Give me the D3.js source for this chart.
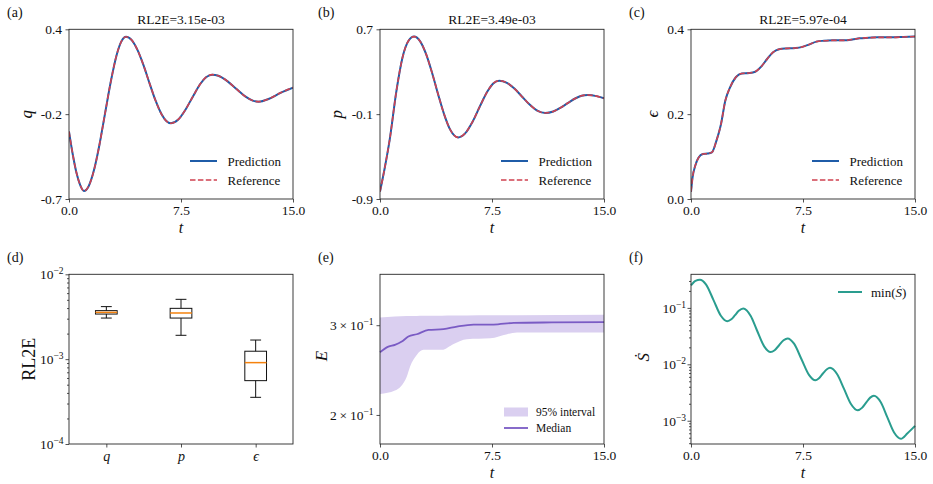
<!DOCTYPE html>
<html>
<head>
<meta charset="utf-8">
<script src="https://cdn.jsdelivr.net/npm/d3@7"></script>
<style>
  body { margin: 0; background: #fff; }
  svg { display: block; }
  svg text { font-family: "Liberation Serif", "Times New Roman", serif; }
</style>
</head>
<body>
<svg id="fig" width="933" height="484"></svg>
<script>
// ---------- data ----------
const tTicks = [0, 7.5, 15];

// (a) q(t)
const tQ = [0, 0.25, 0.5, 0.75, 1.0, 1.3, 1.7, 2.0, 2.4, 2.8, 3.2, 3.5, 3.82, 4.2, 4.6, 5.0, 5.4, 5.8, 6.2, 6.5, 6.82,
            7.3, 7.8, 8.3, 8.8, 9.2, 9.59, 10.0, 10.6, 11.2, 11.8, 12.3, 12.7, 13.4, 14.2, 15];
const qPred = [-0.263, -0.41, -0.53, -0.61, -0.648, -0.62, -0.503, -0.368, -0.153, 0.062, 0.237, 0.32, 0.352, 0.33, 0.263,
               0.164, 0.048, -0.063, -0.151, -0.193, -0.209, -0.186, -0.121, -0.035, 0.047, 0.091, 0.106, 0.099, 0.064,
               0.014, -0.035, -0.062, -0.069, -0.05, -0.01, 0.022];
const qRef = qPred.slice();
const qTickLabels = ["-0.7", "-0.2", "0.4"];

// (b) p(t)
const tP = [0, 0.3, 0.65, 1.1, 1.5, 1.9, 2.28, 2.7, 3.1, 3.5, 3.9, 4.3, 4.7, 5.23, 5.7, 6.2, 6.7, 7.2, 7.6, 7.98,
            8.5, 9.0, 9.5, 10.0, 10.5, 11.07, 11.6, 12.1, 12.6, 13.1, 13.5, 13.9, 14.5, 15];
const pPred = [-0.83, -0.62, -0.34, 0.12, 0.43, 0.59, 0.631, 0.584, 0.461, 0.283, 0.083, -0.104, -0.246, -0.319,
               -0.281, -0.171, -0.023, 0.116, 0.192, 0.216, 0.195, 0.141, 0.067, -0.007, -0.064, -0.089, -0.075,
               -0.039, 0.007, 0.05, 0.073, 0.081, 0.07, 0.049];
const pRef = pPred.slice();
const pTickLabels = ["-0.9", "-0.1", "0.7"];

// (c) epsilon(t)
const tE = [0, 0.1, 0.3, 0.5, 0.8, 1.1, 1.4, 1.7, 2.0, 2.3, 2.6, 3.0, 3.4, 3.9, 4.3, 4.7, 5.1, 5.5, 5.9, 6.4, 7.0,
            7.4, 7.9, 8.4, 8.9, 9.5, 10.3, 10.8, 11.3, 11.9, 12.5, 13.5, 14.2, 15];
const ePred = [0.017, 0.05, 0.08, 0.097, 0.106, 0.107, 0.11, 0.137, 0.175, 0.232, 0.262, 0.287, 0.296, 0.297, 0.3,
               0.312, 0.33, 0.346, 0.353, 0.355, 0.356, 0.358, 0.364, 0.371, 0.373, 0.374, 0.374, 0.376, 0.379, 0.38,
               0.381, 0.381, 0.382, 0.383];
const eRef = ePred.slice();
const eTickLabels = ["0.0", "0.2", "0.4"];

// (d) RL2E box plots
const boxCats = ["q", "p", "\u03f5"];
const boxLow = [3.05e-3, 1.91e-3, 3.55e-4];
const boxQ1 = [3.40e-3, 3.05e-3, 5.58e-4];
const boxMed = [3.56e-3, 3.50e-3, 9.1e-4];
const boxQ3 = [3.73e-3, 3.97e-3, 1.24e-3];
const boxHigh = [4.16e-3, 5.07e-3, 1.68e-3];
const rlTicks = [1e-4, 1e-3, 1e-2];
const rlExps = ["\u22124", "\u22123", "\u22122"];

// (e) energy E: 95% band and median
const tBandLo = [0, 1.0, 1.79, 2.01, 2.46, 2.91, 4.14, 4.93, 5.82, 7.39, 8.51, 9.18, 15];
const bandLo = [0.2199, 0.2233, 0.2378, 0.2488, 0.2623, 0.2684, 0.2684, 0.2757, 0.2815, 0.2827, 0.288, 0.2902, 0.2902];
const tBandHi = [0, 1.0, 2.0, 4.25, 8.7, 15];
const bandHi = [0.3105, 0.3119, 0.3128, 0.3133, 0.3138, 0.3144];
const tMed = [0, 0.56, 1.0, 1.46, 1.9, 2.46, 3.25, 4.25, 5.15, 6.27, 7.6, 8.95, 11.5, 15];
const eMed = [0.2655, 0.2724, 0.2745, 0.2786, 0.2851, 0.288, 0.2937, 0.2947, 0.2982, 0.3009, 0.3009, 0.3032, 0.3038, 0.3041];
const energyTicks = [0.2, 0.3];
const energyMant = ["2", "3"];

// (f) min entropy production rate
const tS = [0, 0.3, 0.6, 1.0, 1.5, 2.0, 2.43, 2.7, 2.95, 3.2, 3.5, 4.0, 4.4, 4.9, 5.33, 5.6, 5.9, 6.2, 6.47, 6.9, 7.4,
            7.9, 8.33, 8.55, 8.82, 9.1, 9.31, 9.8, 10.24, 10.7, 11.16, 11.45, 11.7, 12.0, 12.25, 12.7, 13.15, 13.6,
            14.06, 14.5, 15];
const sDot = [0.251, 0.302, 0.316, 0.261, 0.139, 0.0726, 0.0582, 0.0628, 0.0745, 0.0887, 0.0973, 0.0716, 0.041,
              0.0208, 0.0165, 0.0178, 0.0218, 0.0267, 0.0288, 0.0232, 0.0123, 0.0065, 0.0052, 0.0056, 0.0068, 0.0082,
              0.0087, 0.0066, 0.0037, 0.0020, 0.00153, 0.00169, 0.00205, 0.00257, 0.00277, 0.00215, 0.00115, 0.00062,
              0.00048, 0.0006, 0.00081];
const sTicks = [1e-3, 1e-2, 1e-1];
const sExps = ["\u22123", "\u22122", "\u22121"];

// ---------- layout / style ----------
const SERIF = "Liberation Serif, Times New Roman, serif";
const INK = "#262626";
const BLUE = "#1f5ca8", RED = "#cf4250";
const cols = [[69, 293], [380, 604], [691, 915]];
const rows = [[29.3, 199], [274.3, 444]];

const svg = d3.select("#fig");

function makePanel(c, r, tag) {
  const [x0, x1] = cols[c], [y0, y1] = rows[r];
  const g = svg.append("g");
  g.append("text").attr("x", x0 - 62).attr("y", r === 0 ? 17 : 262)
    .attr("font-size", 14).attr("fill", "#111").text(tag);
  return { x0, x1, y0, y1, g };
}

function frame(p) {
  p.g.append("rect").attr("x", p.x0).attr("y", p.y0)
    .attr("width", p.x1 - p.x0).attr("height", p.y1 - p.y0)
    .attr("fill", "none").attr("stroke", INK).attr("stroke-width", 0.9);
}

function tidy(ax, size) {
  ax.attr("font-family", SERIF);
  ax.select(".domain").remove();
  ax.selectAll(".tick line").attr("stroke", INK).attr("stroke-width", 0.8);
  ax.selectAll(".tick text").attr("font-size", size || 13.5).attr("fill", "#111");
}

function mathLabel(p, txt, x, y, rotate, size) {
  const t = p.g.append("text").attr("font-style", "italic")
    .attr("font-size", size || 17).attr("fill", "#111").attr("text-anchor", "middle").text(txt);
  if (rotate) t.attr("transform", `translate(${x},${y}) rotate(-90)`);
  else t.attr("x", x).attr("y", y);
  return t;
}

function timeAxis(p, x) {
  const ax = p.g.append("g").attr("transform", `translate(0,${p.y1})`)
    .call(d3.axisBottom(x).tickValues(tTicks).tickFormat(d3.format(".1f"))
      .tickSizeInner(3.5).tickSizeOuter(0).tickPadding(3));
  tidy(ax);
  mathLabel(p, "t", (p.x0 + p.x1) / 2, p.y1 + 34, false, 16);
}

// superscript power-of-ten labels on a left log axis
function powerLabels(ax, exps, mants) {
  ax.selectAll(".tick text").each(function (d, i) {
    const t = d3.select(this).text(null);
    if (mants) t.append("tspan").text(mants[i] + "\u2009\u00d7\u200910");
    else t.append("tspan").text("10");
    t.append("tspan").attr("dy", "-0.5em").attr("font-size", 9.5).text(exps[i]);
  });
}

function minorTicks(p, y) {
  const [lo, hi] = y.domain();
  const vals = [];
  for (let k = Math.floor(Math.log10(lo)); k <= Math.ceil(Math.log10(hi)); k++) {
    for (let m = 2; m <= 9; m++) {
      const v = m * Math.pow(10, k);
      if (v > lo && v < hi) vals.push(v);
    }
  }
  const ax = p.g.append("g").attr("transform", `translate(${p.x0},0)`)
    .call(d3.axisLeft(y).tickValues(vals).tickFormat("").tickSizeInner(2).tickSizeOuter(0));
  tidy(ax);
}

// ---------- (a)-(c): prediction vs reference ----------
function linePanel(c, tag, title, yName, yLabelOff, ts, pred, ref, yDom, yLabels) {
  const p = makePanel(c, 0, tag);
  const x = d3.scaleLinear().domain([0, 15]).range([p.x0, p.x1]);
  const y = d3.scaleLinear().domain(yDom).range([p.y1, p.y0]);
  const line = d3.line().x((d, i) => x(ts[i])).y(d => y(d)).curve(d3.curveMonotoneX);

  const clipId = "clip" + c;
  svg.append("clipPath").attr("id", clipId).append("rect")
    .attr("x", p.x0).attr("y", p.y0).attr("width", p.x1 - p.x0).attr("height", p.y1 - p.y0);
  const plot = p.g.append("g").attr("clip-path", `url(#${clipId})`);
  plot.append("path").datum(pred).attr("d", line).attr("fill", "none")
    .attr("stroke", BLUE).attr("stroke-width", 2);
  plot.append("path").datum(ref).attr("d", line).attr("fill", "none")
    .attr("stroke", RED).attr("stroke-width", 1.6).attr("stroke-dasharray", "5.5,2.4");

  const yTicks = [yDom[0], (yDom[0] + yDom[1]) / 2, yDom[1]];
  const ay = p.g.append("g").attr("transform", `translate(${p.x0},0)`)
    .call(d3.axisLeft(y).tickValues(yTicks).tickFormat((d, i) => yLabels[i])
      .tickSizeInner(3.5).tickSizeOuter(0).tickPadding(3.5));
  tidy(ay);
  timeAxis(p, x);
  frame(p);

  p.g.append("text").attr("x", (p.x0 + p.x1) / 2).attr("y", 24).attr("text-anchor", "middle")
    .attr("font-size", 13.5).attr("fill", "#111").text(title);
  mathLabel(p, yName, p.x0 - yLabelOff, (p.y0 + p.y1) / 2, true);

  // legend
  const lx = p.x1 - 103;
  const lg = p.g.append("g");
  lg.append("line").attr("x1", lx).attr("x2", lx + 27).attr("y1", 161).attr("y2", 161)
    .attr("stroke", BLUE).attr("stroke-width", 2);
  lg.append("line").attr("x1", lx).attr("x2", lx + 27).attr("y1", 180).attr("y2", 180)
    .attr("stroke", RED).attr("stroke-width", 1.6).attr("stroke-dasharray", "5.5,2.4");
  lg.selectAll("text").data(["Prediction", "Reference"]).join("text")
    .attr("x", lx + 37.5).attr("y", (d, i) => 161 + i * 19).attr("dy", "0.35em")
    .attr("font-size", 13).attr("fill", "#111").text(d => d);
}

linePanel(0, "(a)", "RL2E=3.15e-03", "q", 37, tQ, qPred, qRef, [-0.7, 0.4], qTickLabels);
linePanel(1, "(b)", "RL2E=3.49e-03", "p", 38, tP, pPred, pRef, [-0.9, 0.7], pTickLabels);
linePanel(2, "(c)", "RL2E=5.97e-04", "\u03f5", 33, tE, ePred, eRef, [0, 0.4], eTickLabels);

// ---------- (d): RL2E box plots ----------
{
  const p = makePanel(0, 1, "(d)");
  const x = d3.scalePoint().domain(boxCats).range([p.x0, p.x1]).padding(0.5);
  const y = d3.scaleLog().domain([1e-4, 1e-2]).range([p.y1, p.y0]);
  const bw = 21.7;
  boxCats.forEach((c, i) => {
    const cx = x(c);
    const b = p.g.append("g").attr("stroke", "#111").attr("stroke-width", 1).attr("fill", "none");
    b.append("line").attr("x1", cx).attr("x2", cx).attr("y1", y(boxLow[i])).attr("y2", y(boxQ1[i]));
    b.append("line").attr("x1", cx).attr("x2", cx).attr("y1", y(boxQ3[i])).attr("y2", y(boxHigh[i]));
    b.append("line").attr("x1", cx - bw / 4).attr("x2", cx + bw / 4).attr("y1", y(boxLow[i])).attr("y2", y(boxLow[i]));
    b.append("line").attr("x1", cx - bw / 4).attr("x2", cx + bw / 4).attr("y1", y(boxHigh[i])).attr("y2", y(boxHigh[i]));
    b.append("rect").attr("x", cx - bw / 2).attr("width", bw)
      .attr("y", y(boxQ3[i])).attr("height", y(boxQ1[i]) - y(boxQ3[i]));
    b.append("line").attr("x1", cx - bw / 2).attr("x2", cx + bw / 2).attr("y1", y(boxMed[i])).attr("y2", y(boxMed[i]))
      .attr("stroke", "#f5820d").attr("stroke-width", 1.5);
  });
  const ay = p.g.append("g").attr("transform", `translate(${p.x0},0)`)
    .call(d3.axisLeft(y).tickValues(rlTicks).tickSizeInner(3.5).tickSizeOuter(0).tickPadding(2));
  tidy(ay);
  powerLabels(ay, rlExps);
  minorTicks(p, y);
  const ax = p.g.append("g").attr("transform", `translate(0,${p.y1})`)
    .call(d3.axisBottom(x).tickSizeInner(3.5).tickSizeOuter(0).tickPadding(4));
  tidy(ax);
  ax.selectAll(".tick text").attr("font-style", "italic").attr("font-size", 14);
  frame(p);
  p.g.append("text").attr("transform", `translate(35,${(p.y0 + p.y1) / 2}) rotate(-90)`)
    .attr("text-anchor", "middle").attr("font-size", 18).attr("fill", "#111").text("RL2E");
}

// ---------- (e): energy band ----------
{
  const p = makePanel(1, 1, "(e)");
  const x = d3.scaleLinear().domain([0, 15]).range([p.x0, p.x1]);
  const y = d3.scaleLog().domain([0.1754, 0.3776]).range([p.y1, p.y0]);
  // upper edge sampled on the lower-edge grid
  const hiAt = d3.scaleLinear().domain(tBandHi).range(bandHi);
  const area = d3.area().x((d, i) => x(tBandLo[i])).y0(d => y(d)).y1((d, i) => y(hiAt(tBandLo[i])))
    .curve(d3.curveMonotoneX);
  p.g.append("path").datum(bandLo).attr("d", area).attr("fill", "#dacff0");
  const line = d3.line().x((d, i) => x(tMed[i])).y(d => y(d)).curve(d3.curveMonotoneX);
  p.g.append("path").datum(eMed).attr("d", line).attr("fill", "none")
    .attr("stroke", "#7a5bc4").attr("stroke-width", 1.8);

  const ay = p.g.append("g").attr("transform", `translate(${p.x0},0)`)
    .call(d3.axisLeft(y).tickValues(energyTicks).tickSizeInner(3.5).tickSizeOuter(0).tickPadding(3));
  tidy(ay);
  powerLabels(ay, ["\u22121", "\u22121"], energyMant);
  timeAxis(p, x);
  frame(p);
  mathLabel(p, "E", 327, (p.y0 + p.y1) / 2 - 3, true);

  const lx = p.x1 - 100;
  p.g.append("rect").attr("x", lx).attr("y", 407.5).attr("width", 24).attr("height", 9).attr("fill", "#dacff0");
  p.g.append("line").attr("x1", lx).attr("x2", lx + 24).attr("y1", 428).attr("y2", 428)
    .attr("stroke", "#7a5bc4").attr("stroke-width", 1.8);
  p.g.selectAll(".leg").data(["95% interval", "Median"]).join("text").attr("class", "leg")
    .attr("x", lx + 32).attr("y", (d, i) => 412 + i * 16).attr("dy", "0.35em")
    .attr("font-size", 11.5).attr("fill", "#111").text(d => d);
}

// ---------- (f): min S-dot ----------
{
  const p = makePanel(2, 1, "(f)");
  const x = d3.scaleLinear().domain([0, 15]).range([p.x0, p.x1]);
  const y = d3.scaleLog().domain([3.87e-4, 0.394]).range([p.y1, p.y0]);
  const line = d3.line().x((d, i) => x(tS[i])).y(d => y(d)).curve(d3.curveMonotoneX);
  p.g.append("path").datum(sDot).attr("d", line).attr("fill", "none")
    .attr("stroke", "#2a9d8f").attr("stroke-width", 2);

  const ay = p.g.append("g").attr("transform", `translate(${p.x0},0)`)
    .call(d3.axisLeft(y).tickValues(sTicks).tickSizeInner(3.5).tickSizeOuter(0).tickPadding(1.5));
  tidy(ay);
  powerLabels(ay, sExps);
  minorTicks(p, y);
  timeAxis(p, x);
  frame(p);
  mathLabel(p, "\u1e60", 649, (p.y0 + p.y1) / 2 - 2, true);

  const lx = p.x1 - 77;
  p.g.append("line").attr("x1", lx).attr("x2", lx + 24).attr("y1", 292).attr("y2", 292)
    .attr("stroke", "#2a9d8f").attr("stroke-width", 2);
  const lt = p.g.append("text").attr("x", lx + 33).attr("y", 292).attr("dy", "0.35em")
    .attr("font-size", 13).attr("fill", "#111");
  lt.append("tspan").text("min(");
  lt.append("tspan").attr("font-style", "italic").text("\u1e60");
  lt.append("tspan").text(")");
}
</script>
</body>
</html>
